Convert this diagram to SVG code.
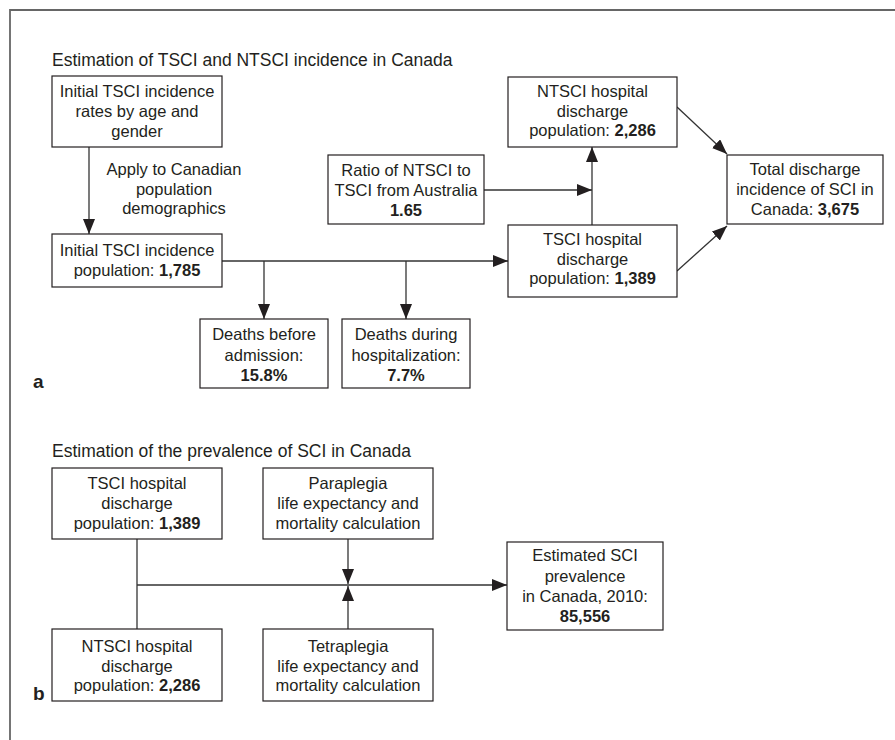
<svg xmlns="http://www.w3.org/2000/svg" width="895" height="740" viewBox="0 0 895 740">
<style>
  text { font-family: "Liberation Sans", Arial, sans-serif; font-size: 16.5px; fill: #231f20; }
  .c { text-anchor: middle; }
  .b { font-weight: bold; }
  .title { font-size: 17.5px; }
  .lab { font-size: 19px; font-weight: bold; }
  .box { fill: #fff; stroke: #231f20; stroke-width: 1.2; }
  .con path { fill: none; stroke: #333; stroke-width: 1.3; }
  .frame { fill: none; stroke: #666; stroke-width: 1.8; }
</style>
<defs>
  <marker id="ah" markerUnits="userSpaceOnUse" markerWidth="15" markerHeight="12" refX="15" refY="6" orient="auto">
    <path d="M0,0 L15,6 L0,12 z" fill="#231f20"/>
  </marker>
</defs>
<rect width="895" height="740" fill="#fff"/>
<path class="frame" d="M10,740 V10 H895"/>

<text class="title" x="52" y="66">Estimation of TSCI and NTSCI incidence in Canada</text>
<text class="lab" x="33" y="388">a</text>
<text class="title" x="52" y="457">Estimation of the prevalence of SCI in Canada</text>
<text class="lab" x="33" y="700">b</text>

<g class="con" id="connectors">
  <path d="M89,147 V234" marker-end="url(#ah)"/>
  <path d="M222,261 H508" marker-end="url(#ah)"/>
  <path d="M264,261 V319" marker-end="url(#ah)"/>
  <path d="M406,261 V319" marker-end="url(#ah)"/>
  <path d="M484,190 H592" marker-end="url(#ah)"/>
  <path d="M592,225 V147" marker-end="url(#ah)"/>
  <path d="M677,107 L727,154" marker-end="url(#ah)"/>
  <path d="M677,271 L727,226" marker-end="url(#ah)"/>
  <path d="M137,539 V629"/>
  <path d="M137,585 H507" marker-end="url(#ah)"/>
  <path d="M348,539 V584" marker-end="url(#ah)"/>
  <path d="M348,629 V586" marker-end="url(#ah)"/>
  <g id="apply-label">
    <text class="c" x="174" y="175">Apply to Canadian</text>
    <text class="c" x="174" y="195">population</text>
    <text class="c" x="174" y="214">demographics</text>
  </g>
</g>

<g id="initial-rates">
  <rect class="box" x="52" y="76" width="170" height="71"/>
  <text class="c" x="137" y="97">Initial TSCI incidence</text>
  <text class="c" x="137" y="117">rates by age and</text>
  <text class="c" x="137" y="137">gender</text>
</g>
<g id="initial-pop">
  <rect class="box" x="52" y="234" width="170" height="53"/>
  <text class="c" x="137" y="256">Initial TSCI incidence</text>
  <text class="c" x="137" y="276">population: <tspan class="b">1,785</tspan></text>
</g>
<g id="deaths-before">
  <rect class="box" x="200" y="319" width="128" height="69"/>
  <text class="c" x="264" y="340">Deaths before</text>
  <text class="c" x="264" y="361">admission:</text>
  <text class="c b" x="264" y="381">15.8%</text>
</g>
<g id="deaths-during">
  <rect class="box" x="342" y="319" width="128" height="69"/>
  <text class="c" x="406" y="340">Deaths during</text>
  <text class="c" x="406" y="361">hospitalization:</text>
  <text class="c b" x="406" y="381">7.7%</text>
</g>
<g id="ratio">
  <rect class="box" x="328" y="155" width="156" height="69"/>
  <text class="c" x="406" y="176">Ratio of NTSCI to</text>
  <text class="c" x="406" y="196">TSCI from Australia</text>
  <text class="c b" x="406" y="216">1.65</text>
</g>
<g id="ntsci-a">
  <rect class="box" x="508" y="77" width="169" height="70"/>
  <text class="c" x="592.5" y="97">NTSCI hospital</text>
  <text class="c" x="592.5" y="117">discharge</text>
  <text class="c" x="592.5" y="136">population: <tspan class="b">2,286</tspan></text>
</g>
<g id="tsci-a">
  <rect class="box" x="508" y="225" width="169" height="72"/>
  <text class="c" x="592.5" y="245">TSCI hospital</text>
  <text class="c" x="592.5" y="265">discharge</text>
  <text class="c" x="592.5" y="284">population: <tspan class="b">1,389</tspan></text>
</g>
<g id="total">
  <rect class="box" x="727" y="155" width="156" height="69"/>
  <text class="c" x="805" y="175">Total discharge</text>
  <text class="c" x="805" y="195">incidence of SCI in</text>
  <text class="c" x="805" y="215">Canada: <tspan class="b">3,675</tspan></text>
</g>

<g id="tsci-b">
  <rect class="box" x="52" y="468" width="170" height="71"/>
  <text class="c" x="137" y="489">TSCI hospital</text>
  <text class="c" x="137" y="509">discharge</text>
  <text class="c" x="137" y="529">population: <tspan class="b">1,389</tspan></text>
</g>
<g id="paraplegia">
  <rect class="box" x="263" y="468" width="170" height="71"/>
  <text class="c" x="348" y="489">Paraplegia</text>
  <text class="c" x="348" y="509">life expectancy and</text>
  <text class="c" x="348" y="529">mortality calculation</text>
</g>
<g id="ntsci-b">
  <rect class="box" x="52" y="629" width="170" height="72"/>
  <text class="c" x="137" y="652">NTSCI hospital</text>
  <text class="c" x="137" y="672">discharge</text>
  <text class="c" x="137" y="691">population: <tspan class="b">2,286</tspan></text>
</g>
<g id="tetraplegia">
  <rect class="box" x="263" y="629" width="170" height="72"/>
  <text class="c" x="348" y="652">Tetraplegia</text>
  <text class="c" x="348" y="672">life expectancy and</text>
  <text class="c" x="348" y="691">mortality calculation</text>
</g>
<g id="estimated">
  <rect class="box" x="507" y="542" width="156" height="88"/>
  <text class="c" x="585" y="561">Estimated SCI</text>
  <text class="c" x="585" y="582">prevalence</text>
  <text class="c" x="585" y="602">in Canada, 2010:</text>
  <text class="c b" x="585" y="622">85,556</text>
</g>
</svg>
